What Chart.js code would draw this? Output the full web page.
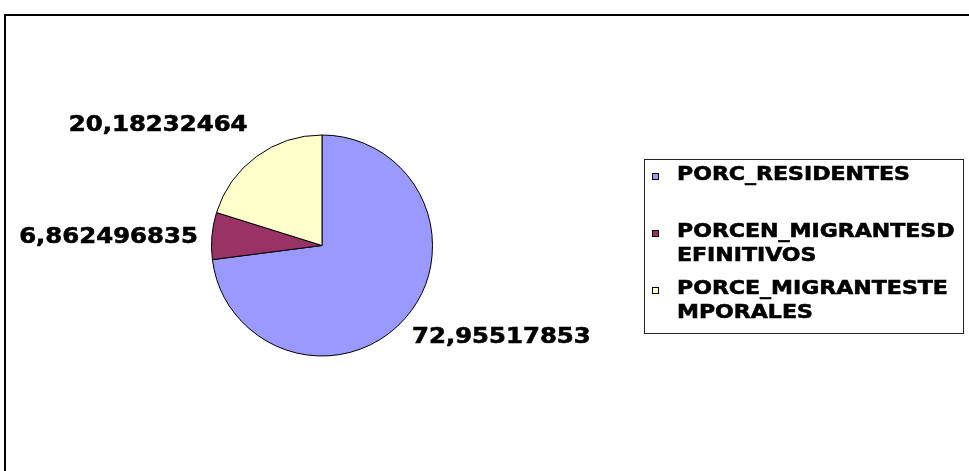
<!DOCTYPE html>
<html>
<head>
<meta charset="utf-8">
<script src="https://cdn.jsdelivr.net/npm/chart.js@4.4.1/dist/chart.umd.min.js"></script>
<style>
  html, body { margin: 0; padding: 0; background: #fff; }
  canvas { display: block; }
</style>
</head>
<body>
<canvas id="pie" width="969" height="471"></canvas>
<script>
const categories = ['PORC_RESIDENTES', 'PORCEN_MIGRANTESDEFINITIVOS', 'PORCE_MIGRANTESTEMPORALES'];
const values = [72.95517853, 6.862496835, 20.18232464];
const valueLabels = ['72,95517853', '6,862496835', '20,18232464'];
const sliceColors = ['#9999FF', '#993366', '#FFFFCC'];

// where each value label sits relative to the outer middle of its slice
const labelLayout = [
  { align: 'left', dx: 7, dy: 19 },
  { align: 'right', dx: -14, dy: 1.5 },
  { align: 'right', dx: -9, dy: -30.5 },
];

const FONT = '"DejaVu Sans", Verdana, sans-serif';
const STRETCH = 1.16;

function stretchedText(ctx, text, x, y, align, size) {
  ctx.save();
  ctx.font = `bold ${size}px ${FONT}`;
  ctx.textAlign = align;
  ctx.textBaseline = 'middle';
  ctx.fillStyle = '#000';
  ctx.strokeStyle = '#000';
  ctx.lineWidth = 0.6;
  ctx.translate(x, y);
  ctx.scale(STRETCH, 1);
  ctx.fillText(text, 0, 0);
  ctx.strokeText(text, 0, 0);
  ctx.restore();
}

function wrapLabel(text, maxChars) {
  const lines = [];
  for (let i = 0; i < text.length; i += maxChars) {
    lines.push(text.slice(i, i + maxChars));
  }
  return lines;
}

const frameAndLabels = {
  id: 'frameAndLabels',
  afterDraw(chart) {
    const ctx = chart.ctx;

    // outer frame (only top and left edges are visible)
    ctx.save();
    ctx.strokeStyle = '#000';
    ctx.lineWidth = 2;
    ctx.strokeRect(5, 15, 1000, 500);
    ctx.restore();

    // value labels next to each slice
    const meta = chart.getDatasetMeta(0);
    meta.data.forEach((arc, i) => {
      const mid = (arc.startAngle + arc.endAngle) / 2;
      const ax = arc.x + Math.cos(mid) * arc.outerRadius;
      const ay = arc.y + Math.sin(mid) * arc.outerRadius;
      const lay = labelLayout[i];
      stretchedText(ctx, valueLabels[i], ax + lay.dx, ay + lay.dy, lay.align, 21);
    });

    // legend box
    const box = { left: 644, top: 159, right: 963, bottom: 333 };
    ctx.save();
    ctx.strokeStyle = '#222';
    ctx.lineWidth = 1;
    ctx.strokeRect(box.left + 0.5, box.top + 0.5, box.right - box.left, box.bottom - box.top);
    ctx.restore();

    const entryGap = 57;
    const lineGap = 24.5;
    categories.forEach((name, i) => {
      const y0 = 175 + i * entryGap;
      ctx.save();
      ctx.fillStyle = sliceColors[i];
      ctx.fillRect(652, y0 - 2, 7, 7);
      ctx.strokeStyle = '#000';
      ctx.lineWidth = 1;
      ctx.strokeRect(652.5, y0 - 1.5, 6, 6);
      ctx.restore();
      wrapLabel(name, 17).forEach((line, j) => {
        stretchedText(ctx, line, 677, y0 + j * lineGap, 'left', 19);
      });
    });
  }
};

new Chart(document.getElementById('pie'), {
  type: 'pie',
  data: {
    labels: categories,
    datasets: [{
      data: values,
      backgroundColor: sliceColors,
      borderColor: '#000',
      borderWidth: 1,
    }],
  },
  options: {
    responsive: false,
    animation: false,
    layout: { padding: { left: 211, right: 536, top: 134, bottom: 114 } },
    plugins: {
      legend: { display: false },
      tooltip: { enabled: false },
    },
  },
  plugins: [frameAndLabels],
});
</script>
</body>
</html>
